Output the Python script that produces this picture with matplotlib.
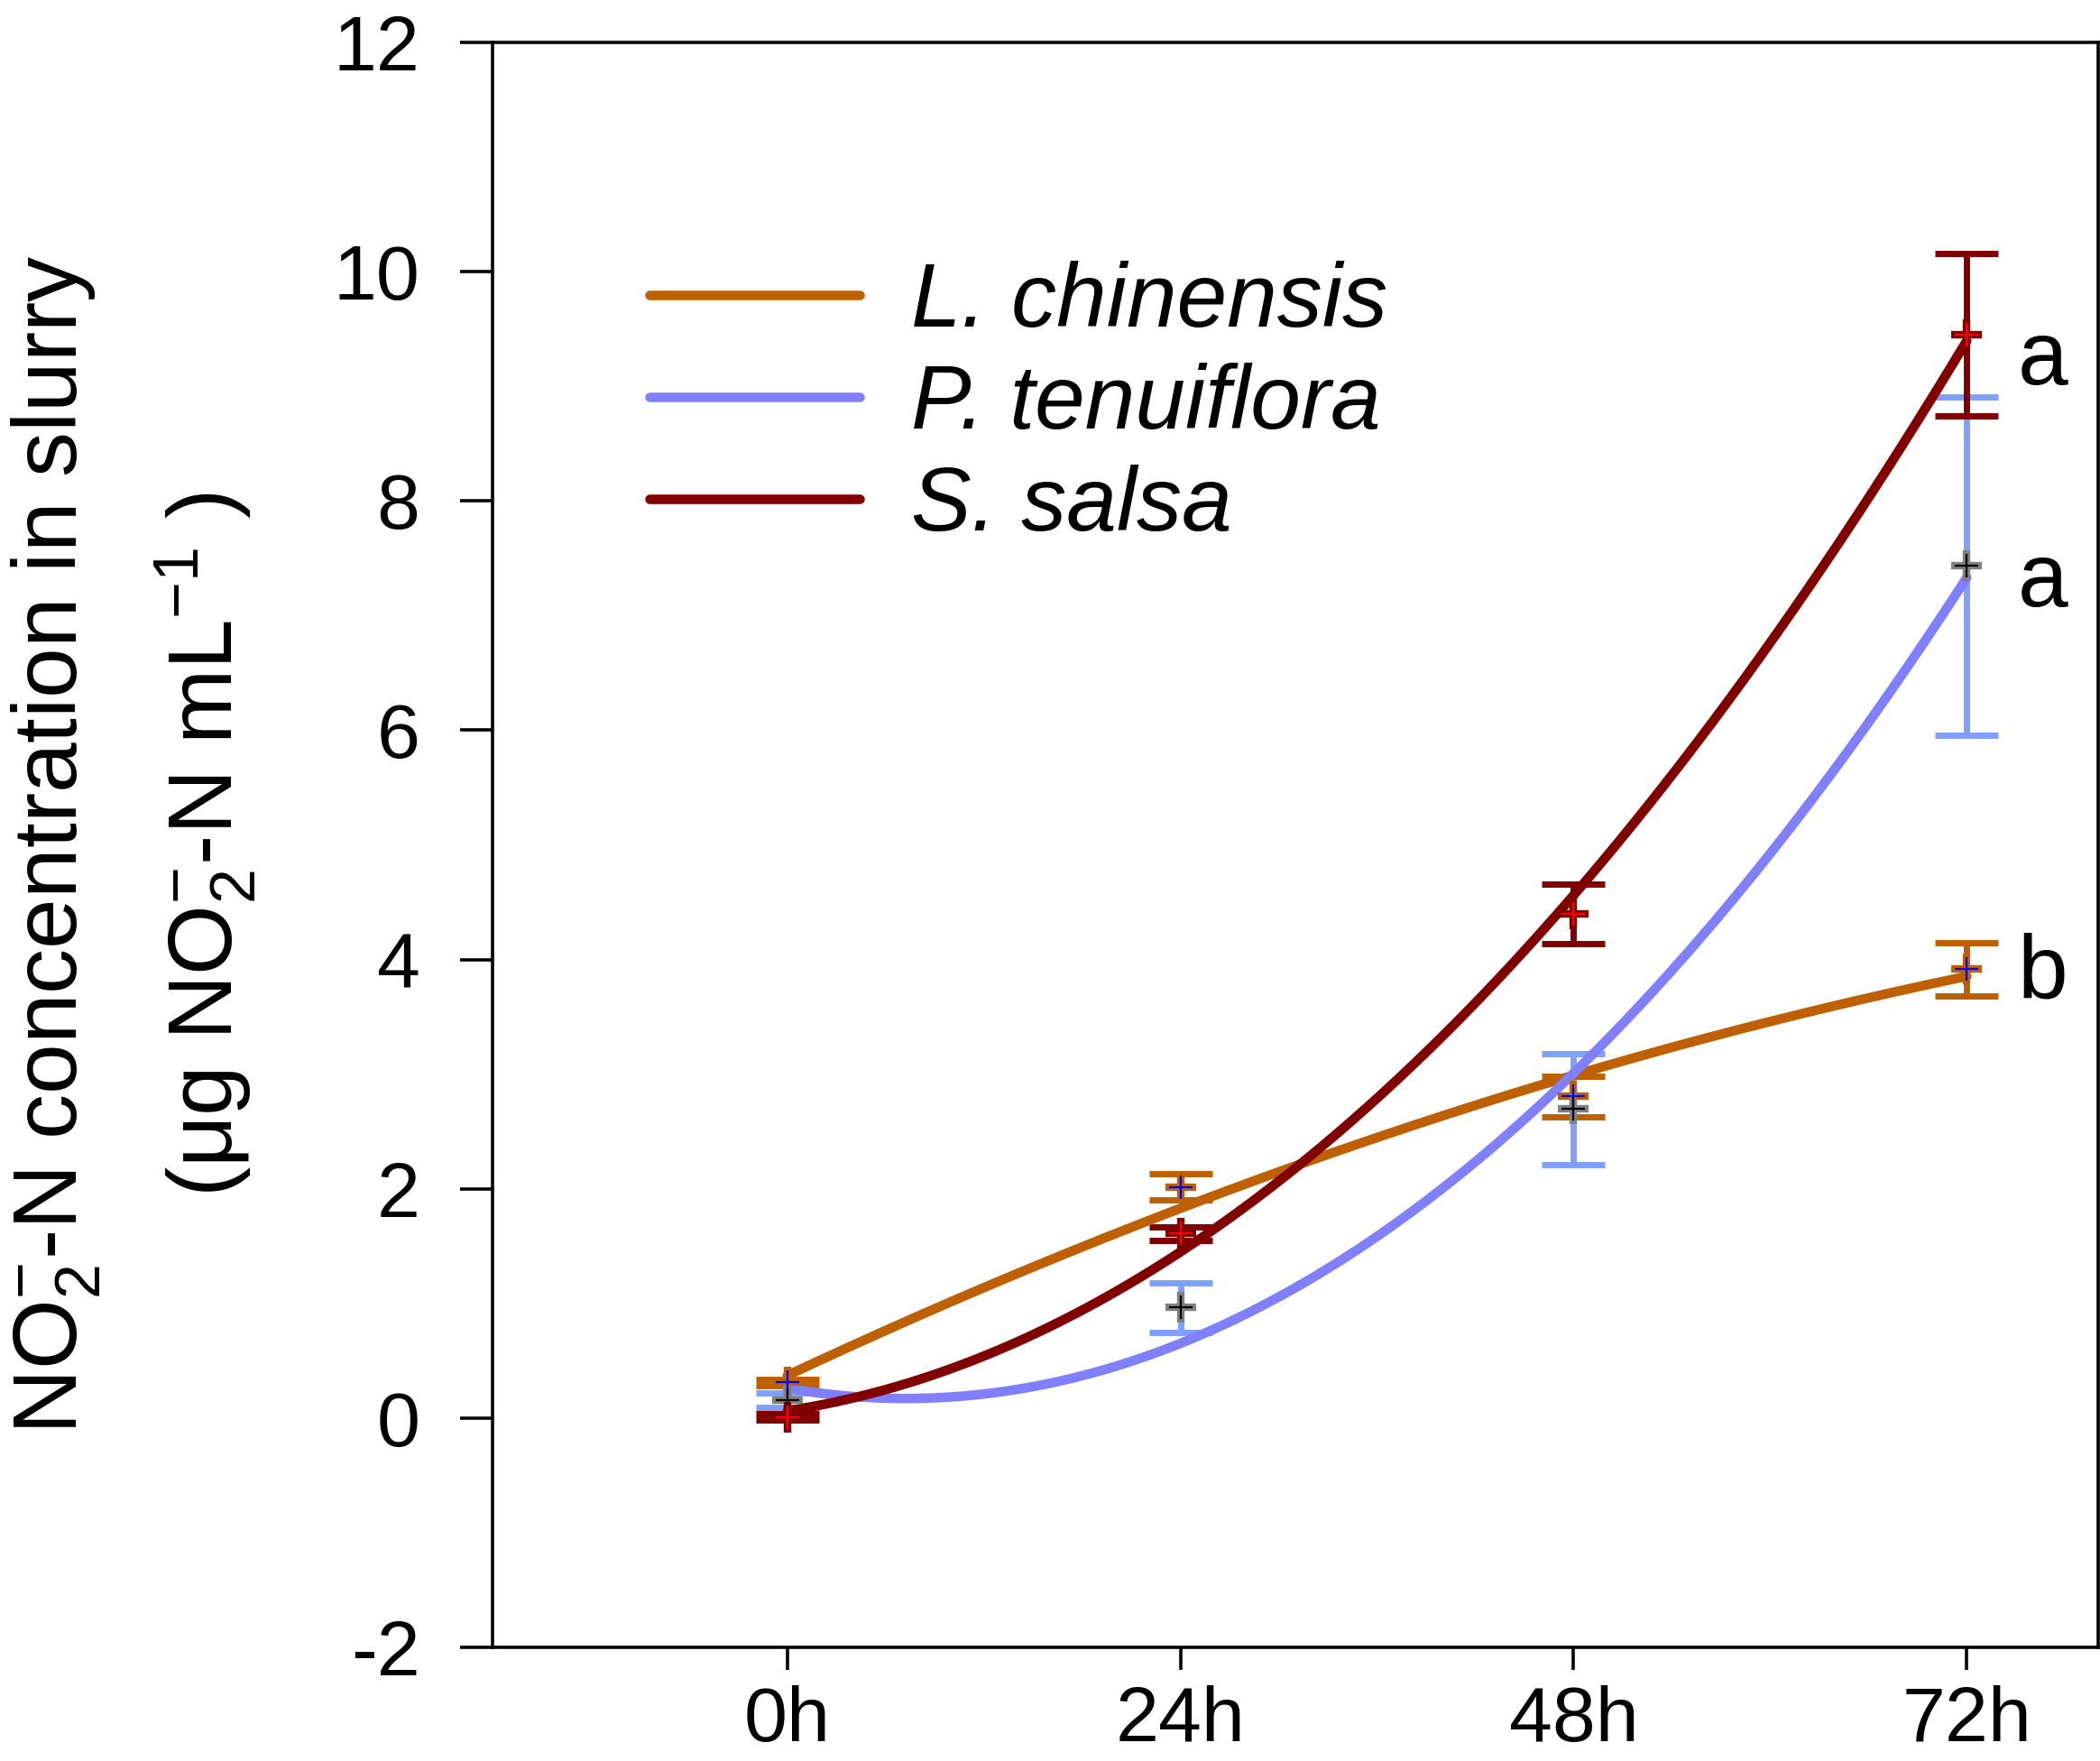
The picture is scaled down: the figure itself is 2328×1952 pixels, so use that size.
import matplotlib
matplotlib.use('Agg')
import matplotlib.pyplot as plt
import numpy as np

plt.rcParams['font.family'] = ['Liberation Sans', 'DejaVu Sans']
plt.rcParams['mathtext.fontset'] = 'custom'
plt.rcParams['mathtext.rm'] = 'Liberation Sans'
plt.rcParams['mathtext.it'] = 'Liberation Sans:italic'
plt.rcParams['axes.unicode_minus'] = False

# sampling time (h) and tick labels
hours = [0, 24, 48, 72]
hour_labels = ['0h', '24h', '48h', '72h']

# NO2- -N in slurry, mean and error per species
lc_mean = [0.31, 2.015, 2.805, 3.915]
lc_err = [0.03, 0.115, 0.175, 0.235]
pt_mean = [0.155, 0.965, 2.695, 7.435]
pt_err = [0.065, 0.215, 0.485, 1.475]
ss_mean = [0.01, 1.61, 4.40, 9.45]
ss_err = [0.03, 0.06, 0.26, 0.71]

species = ['L. chinensis', 'P. tenuiflora', 'S. salsa']
sig_letters = ['b', 'a', 'a']
letter_y = [3.66, 7.08, 9.02]

# colours: curve, error bar, marker base, marker inner
lc_cols = ('#BF6000', '#BF6000', '#BF6000', '#0000FF')
pt_cols = ('#8080FF', '#80A0FF', '#808080', '#000000')
ss_cols = ('#800000', '#800000', '#800000', '#FF0000')

fig = plt.figure(figsize=(11.64, 9.76), dpi=200)
ax = fig.add_axes([546 / 2328, 1 - 1826 / 1952, (2325.5 - 546) / 2328, (1826 - 47) / 1952])

xs = np.linspace(0, 72, 300)
groups = [(lc_mean, lc_err, lc_cols), (pt_mean, pt_err, pt_cols), (ss_mean, ss_err, ss_cols)]

for n, (m, e, c) in enumerate(groups):
    ax.errorbar(hours, m, yerr=e, fmt='none', ecolor=c[1], elinewidth=2.5,
                capsize=12.6, capthick=2.5, zorder=2)
    # quadratic fit through the means
    coef = np.polyfit(hours, m, 2)
    ax.plot(xs, np.polyval(coef, xs), color=c[0], lw=3.8, solid_capstyle='round',
            label=species[n], zorder=3 + n)
    ax.plot(hours, m, ls='none', marker='+', ms=12, mew=3.0, color=c[2], zorder=7)
    ax.plot(hours, m, ls='none', marker='+', ms=9.5, mew=0.8, color=c[3], zorder=8)

for n in range(3):
    ax.text(75.1, letter_y[n], sig_letters[n], fontsize=36, ha='left', va='baseline')

ax.set_xlim(-18, 80)
ax.set_ylim(-2, 12)
ax.set_xticks(hours)
ax.set_xticklabels(hour_labels)
ax.set_yticks(np.arange(-2, 13, 2))
ax.tick_params(axis='y', direction='out', length=13, width=1.3, pad=16, labelsize=31)
ax.tick_params(axis='x', direction='out', length=9, width=1.3, pad=6, labelsize=31)
for s in ax.spines.values():
    s.set_linewidth(1.3)

leg = ax.legend(loc='upper left', bbox_to_anchor=(0.0978, 0.864), frameon=False,
                borderpad=0, borderaxespad=0, handlelength=2.33, handletextpad=0.57,
                labelspacing=0.19, prop={'size': 36, 'style': 'italic'})

fig.text(62 / 2328, 0.5205, r'NO$_2^{-}$-N concentration in slurry', rotation=90,
         fontsize=36, ha='center', va='center')
fig.text(228 / 2328, 0.5205, '(\u03bcg NO$_2^{-}$-N mL$^{-1}$ )', rotation=90,
         fontsize=36, ha='center', va='center')

fig.savefig('out.png', dpi=200)
